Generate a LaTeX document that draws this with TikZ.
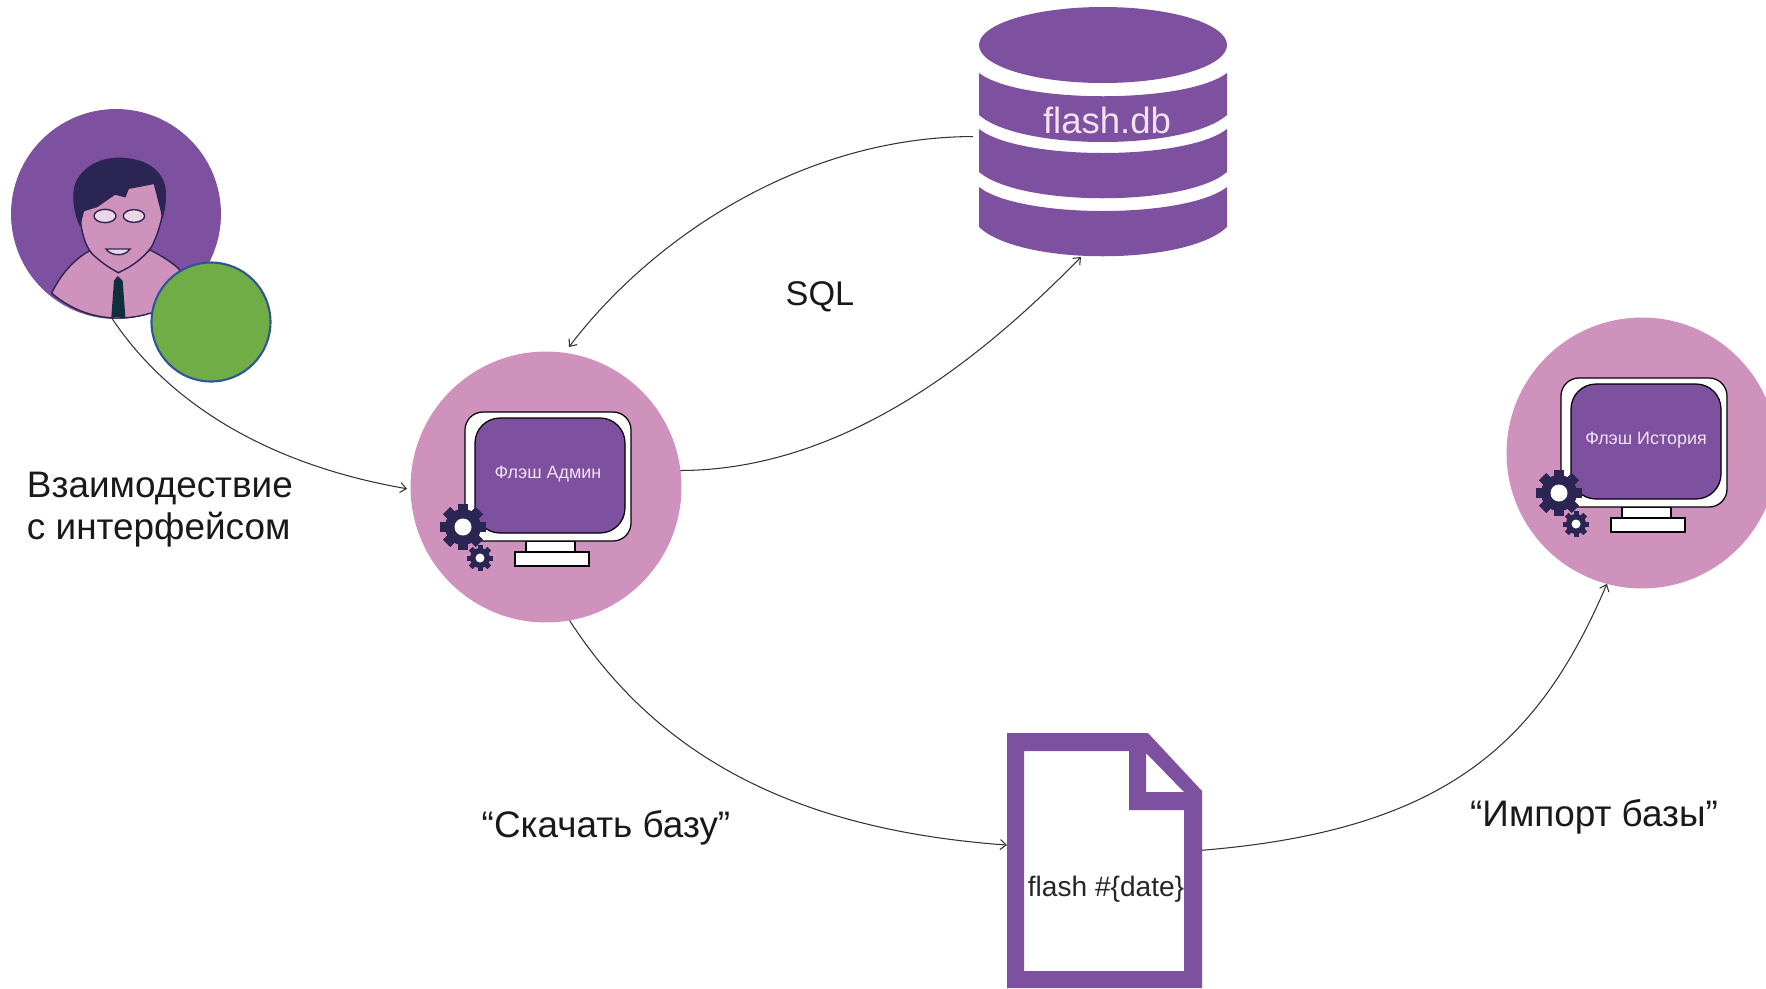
\documentclass[tikz,border=0pt]{standalone}
\usepackage{fontspec}
\setmainfont{Liberation Sans}
\usepackage{xcolor}
\usepackage{tikz}
\usetikzlibrary{arrows.meta}
\definecolor{flashpurple}{HTML}{7E50A0}
\definecolor{flashpink}{HTML}{CE92BD}
\definecolor{flashlight}{HTML}{F1E2F1}
\definecolor{flashnavy}{HTML}{2A2552}
\definecolor{flashtie}{HTML}{0F2F3F}
\definecolor{flashgreen}{HTML}{70AD47}
\definecolor{flashblue}{HTML}{2F5597}

\begin{document}
\begin{tikzpicture}[x=0.02cm,y=-0.02cm,
    every node/.style={inner sep=0pt,outer sep=0pt},
    flow/.style={draw=black!80,line width=0.6pt,-{Straight Barb[length=1.2mm,width=2mm]}},
    caption/.style={text=black!90,font=\fontsize{21}{24}\selectfont},
    screentext/.style={text=flashlight,font=\fontsize{10.2}{12}\selectfont},
    bigdisc/.style={circle,fill=flashpink,minimum size=5.42cm},
    outline/.style={draw=flashnavy,line width=0.8pt}]
      \useasboundingbox (0,0) rectangle (1766,988);
      \clip (0,0) rectangle (1766,988);

      %%%%%%%%%%%%%%%%%%%%%%%%%%%%%%%%%%%%%%%%%%%%%%%%%%%%%%%%%%%%%%%%%%%%%%%%%%
      %%% BEGIN: USER.
      %%%%%%%%%%%%%%%%%%%%%%%%%%%%%%%%%%%%%%%%%%%%%%%%%%%%%%%%%%%%%%%%%%%%%%%%%%
      \node[circle,fill=flashpurple,minimum size=4.2cm] (user) at (116,214) {};
      \begin{scope}[shift={(0,90)},x=0.02cm/3,y=-0.02cm/3]
        % Shoulders.
        \filldraw[fill=flashpink,outline] (155,610) .. controls (180,555) and (225,505) .. (270,482)
          -- (355,548) -- (450,480) .. controls (490,500) and (520,520) .. (540,540)
          -- (480,660) .. controls (440,675) and (400,684) .. (355,684)
          .. controls (285,685) and (215,660) .. (155,610) -- cycle;
        % Face.
        \filldraw[fill=flashpink,outline] (240,380) .. controls (245,430) and (255,465) .. (275,490)
          .. controls (300,515) and (330,535) .. (355,548)
          .. controls (395,530) and (430,505) .. (455,470)
          .. controls (470,440) and (480,410) .. (487,375) -- (470,270) -- (300,290) -- cycle;
        % Hair.
        \filldraw[fill=flashnavy,outline] (240,405) .. controls (225,370) and (218,330) .. (224,295)
          .. controls (235,240) and (295,205) .. (355,205)
          .. controls (420,205) and (480,230) .. (494,290)
          .. controls (498,320) and (495,350) .. (488,378)
          -- (463,280) -- (385,295) -- (375,320) -- (345,312) -- (290,350) -- (250,362) -- cycle;
        % Eyes and mouth.
        \filldraw[fill=flashlight!85!flashpink,outline] (315,378) ellipse [x radius=33,y radius=20];
        \filldraw[fill=flashlight!85!flashpink,outline] (402,378) ellipse [x radius=32,y radius=19];
        \filldraw[fill=flashlight!85!flashpink,outline] (318,477) -- (390,477) .. controls (375,500) and (335,500) .. (318,477) -- cycle;
        % Tie.
        \fill[flashtie] (353,558) -- (368,572) -- (376,681) -- (334,681) -- (342,572) -- cycle;
      \end{scope}
      \node[circle,fill=flashgreen,draw=flashblue,line width=1.2pt,minimum size=2.38cm] (status) at (211,322) {};
      %%%%%%%%%%%%%%%%%%%%%%%%%%%%%%%%%%%%%%%%%%%%%%%%%%%%%%%%%%%%%%%%%%%%%%%%%%
      %%% END: USER.
      %%%%%%%%%%%%%%%%%%%%%%%%%%%%%%%%%%%%%%%%%%%%%%%%%%%%%%%%%%%%%%%%%%%%%%%%%%

      %%%%%%%%%%%%%%%%%%%%%%%%%%%%%%%%%%%%%%%%%%%%%%%%%%%%%%%%%%%%%%%%%%%%%%%%%%
      %%% BEGIN: MONITORS.
      %%%%%%%%%%%%%%%%%%%%%%%%%%%%%%%%%%%%%%%%%%%%%%%%%%%%%%%%%%%%%%%%%%%%%%%%%%
      \node[bigdisc] (admin) at (546,487) {};
      \node[bigdisc] (history) at (1642,453) {};

      \foreach \dx/\dy/\tx/\nm/\txt in {0/0/548/adminlabel/Флэш Админ,1096/-34/550/historylabel/Флэш История}{
        \begin{scope}[shift={(\dx,\dy)}]
          % Stand and frame.
          \filldraw[fill=white,draw=black,line width=0.7pt] (526,541) rectangle (575,552);
          \filldraw[fill=white,draw=black,line width=0.7pt] (515,552) rectangle (589,566);
          \filldraw[fill=white,draw=black,line width=0.7pt,rounded corners=0.36cm] (465,412) rectangle (631,541);
          \filldraw[fill=flashpurple,draw=black,line width=0.7pt,rounded corners=0.5cm] (475,418) rectangle (625,533);
          \node[screentext] (\nm) at (\tx,474) {\txt};
          % Big gear.
          \foreach \a in {0,45,...,315}{
            \fill[flashnavy,rotate around={\a:(463,527)}] (458,504) rectangle (468,550);
          }
          \fill[flashnavy] (463,527) circle [radius=18];
          \fill[white] (463,527) circle [radius=8.5];
          % Small gear.
          \foreach \a in {0,45,...,315}{
            \fill[flashnavy,rotate around={\a:(480,558)}] (477.5,545) rectangle (482.5,571);
          }
          \fill[flashnavy] (480,558) circle [radius=10];
          \fill[white] (480,558) circle [radius=4.5];
        \end{scope}
      }
      %%%%%%%%%%%%%%%%%%%%%%%%%%%%%%%%%%%%%%%%%%%%%%%%%%%%%%%%%%%%%%%%%%%%%%%%%%
      %%% END: MONITORS.
      %%%%%%%%%%%%%%%%%%%%%%%%%%%%%%%%%%%%%%%%%%%%%%%%%%%%%%%%%%%%%%%%%%%%%%%%%%

      %%%%%%%%%%%%%%%%%%%%%%%%%%%%%%%%%%%%%%%%%%%%%%%%%%%%%%%%%%%%%%%%%%%%%%%%%%
      %%% BEGIN: DATABASE.
      %%%%%%%%%%%%%%%%%%%%%%%%%%%%%%%%%%%%%%%%%%%%%%%%%%%%%%%%%%%%%%%%%%%%%%%%%%
      \node[minimum width=5.2cm,minimum height=5cm] (db) at (1103,132) {};
      \fill[flashpurple] (1103,45) ellipse [x radius=124,y radius=38];
      % Bands: top edge, its sag, bottom edge, its sag.
      \foreach \ya/\sa/\yb/\sb in {73/31/115/36,129/32/172/35,187/32/227/39}{
        \fill[flashpurple] (979,\ya) .. controls (1020,\ya+\sa) and (1186,\ya+\sa) .. (1227,\ya)
          -- (1227,\yb) .. controls (1186,\yb+\sb) and (1020,\yb+\sb) .. (979,\yb) -- cycle;
      }
      \node[text=flashlight,font=\fontsize{20.8}{24}\selectfont] (dblabel) at (1107,120) {flash.db};
      %%%%%%%%%%%%%%%%%%%%%%%%%%%%%%%%%%%%%%%%%%%%%%%%%%%%%%%%%%%%%%%%%%%%%%%%%%
      %%% END: DATABASE.
      %%%%%%%%%%%%%%%%%%%%%%%%%%%%%%%%%%%%%%%%%%%%%%%%%%%%%%%%%%%%%%%%%%%%%%%%%%

      %%%%%%%%%%%%%%%%%%%%%%%%%%%%%%%%%%%%%%%%%%%%%%%%%%%%%%%%%%%%%%%%%%%%%%%%%%
      %%% BEGIN: FILE.
      %%%%%%%%%%%%%%%%%%%%%%%%%%%%%%%%%%%%%%%%%%%%%%%%%%%%%%%%%%%%%%%%%%%%%%%%%%
      \node[minimum width=3.9cm,minimum height=5.1cm] (dump) at (1104.5,860.5) {};
      \fill[flashpurple,even odd rule] (1007,733) -- (1148,733) -- (1202,791) -- (1202,988) -- (1007,988) -- cycle
        (1024,751) -- (1129,751) -- (1129,810) -- (1184,810) -- (1184,971) -- (1024,971) -- cycle
        (1146,753) -- (1184,792) -- (1146,792) -- cycle;
      \node[font=\fontsize{16}{18}\selectfont,text=black!85] (dumplabel) at (1106,889) {flash \#\{date\}};
      %%%%%%%%%%%%%%%%%%%%%%%%%%%%%%%%%%%%%%%%%%%%%%%%%%%%%%%%%%%%%%%%%%%%%%%%%%
      %%% END: FILE.
      %%%%%%%%%%%%%%%%%%%%%%%%%%%%%%%%%%%%%%%%%%%%%%%%%%%%%%%%%%%%%%%%%%%%%%%%%%

      % Connectors.
      \draw[flow,shorten >=2pt] (user.-92) .. controls (170,405) and (270,465) .. (admin.181);
      \draw[flow] (db.182) .. controls (800,137) and (650,240) .. (569,347);
      \draw[flow] (admin.7) .. controls (850,470) and (990,350) .. (db.-100);
      \draw[flow] (admin.-80) .. controls (660,760) and (800,830) .. (dump.171);
      \draw[flow] (dump.6) .. controls (1450,830) and (1540,740) .. (history.-105);

      % Captions.
      \node[caption,align=left,anchor=north west] (touch) at (27,472) {Взаимодествие\\с интерфейсом};
      \node[caption,font=\fontsize{19.5}{24}\selectfont] (sql) at (820,297) {SQL};
      \node[caption] (fetch) at (606,828) {“Скачать базу”};
      \node[caption] (import) at (1594,817) {“Импорт базы”};
\end{tikzpicture}
\end{document}
